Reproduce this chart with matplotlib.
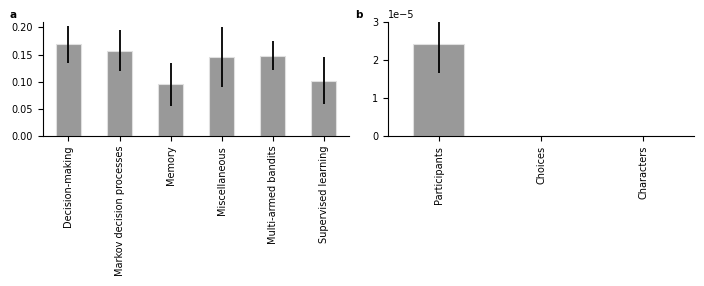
import numpy as np
import matplotlib
matplotlib.use("Agg")
import matplotlib.pyplot as plt

# panel a: values by task category
categories_a = ["Decision-making", "Markov decision processes", "Memory",
                "Miscellaneous", "Multi-armed bandits", "Supervised learning"]
values_a = [0.169, 0.157, 0.096, 0.146, 0.148, 0.102]
lower_a = [0.135, 0.119, 0.056, 0.091, 0.121, 0.059]
upper_a = [0.203, 0.195, 0.135, 0.201, 0.175, 0.146]

# panel b: values by feature
categories_b = ["Participants", "Choices", "Characters"]
values_b = [2.42e-5, 0.0, 0.0]
lower_b = [1.65e-5, 0.0, 0.0]
upper_b = [3.0e-5, 0.0, 0.0]

plt.rcParams["font.size"] = 7

fig = plt.figure(figsize=(7.04, 2.86), dpi=100)
ax_a = fig.add_axes([0.061, 0.524, 0.435, 0.399])
ax_b = fig.add_axes([0.551, 0.524, 0.435, 0.399])


def draw_panel(ax, cats, vals, lo, hi):
    x = np.arange(len(cats))
    vals = np.array(vals)
    err = [vals - np.array(lo), np.array(hi) - vals]
    ax.bar(x, vals, width=0.5, color="#999999", edgecolor="#e0e0e0", linewidth=0.8)
    ax.errorbar(x, vals, yerr=err, fmt="none", ecolor="black", elinewidth=1.3, capsize=0)
    ax.set_xticks(x)
    ax.set_xticklabels(cats, rotation=90)
    ax.set_xlim(-0.5, len(cats) - 0.5)
    ax.spines["top"].set_visible(False)
    ax.spines["right"].set_visible(False)


draw_panel(ax_a, categories_a, values_a, lower_a, upper_a)
ax_a.set_ylim(0, 0.21)
ax_a.set_yticks([0, 0.05, 0.10, 0.15, 0.20])
ax_a.set_yticklabels(["0.00", "0.05", "0.10", "0.15", "0.20"])

draw_panel(ax_b, categories_b, values_b, lower_b, upper_b)
ax_b.set_ylim(0, 3e-5)
ax_b.set_yticks([0, 1e-5, 2e-5, 3e-5])

fig.text(10 / 704, 1 - 15 / 286, "a", fontweight="bold", fontsize=7.5, va="center")
fig.text(355 / 704, 1 - 15 / 286, "b", fontweight="bold", fontsize=7.5, va="center")

fig.savefig("out.png", dpi=100)
